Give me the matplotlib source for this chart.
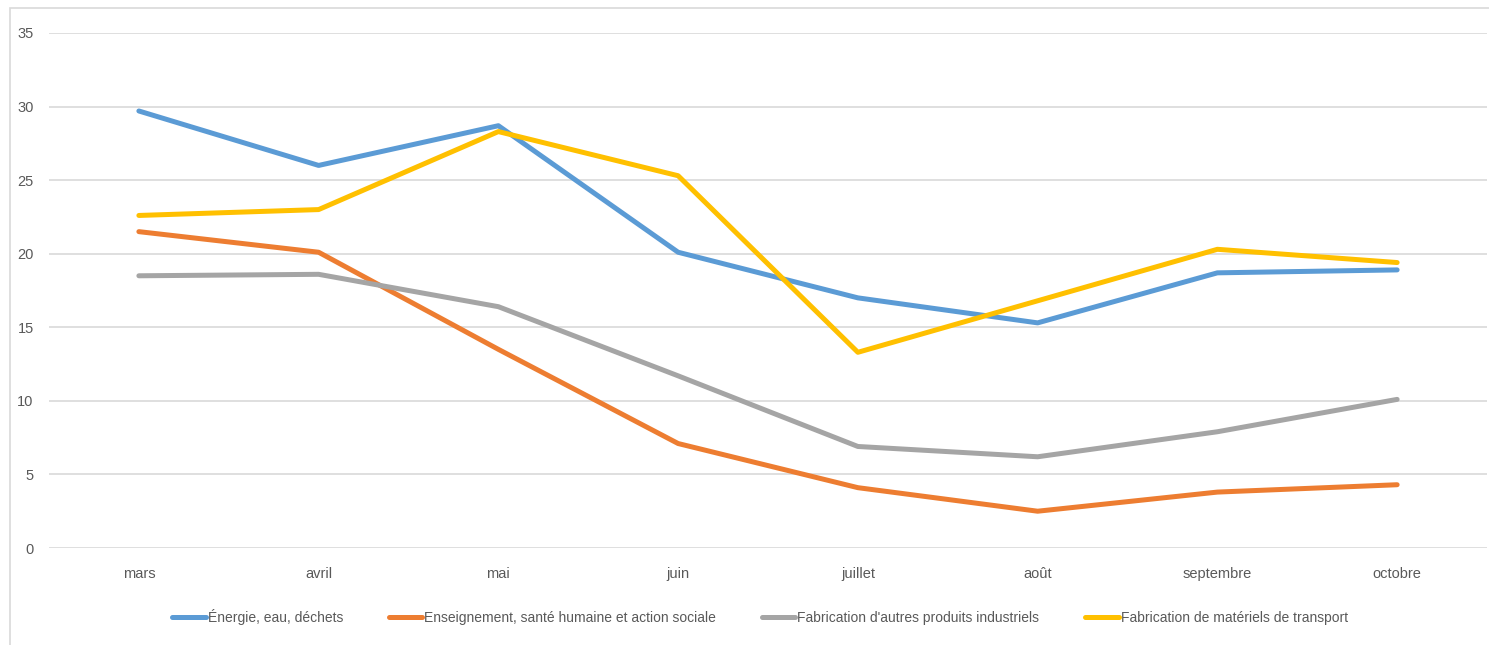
import matplotlib
matplotlib.use("Agg")
import matplotlib.pyplot as plt
from matplotlib.patches import Rectangle
from matplotlib.lines import Line2D

months = ["mars", "avril", "mai", "juin", "juillet", "août", "septembre", "octobre"]

energie = [29.7, 26.0, 28.7, 20.1, 17.0, 15.3, 18.7, 18.9]
enseignement = [21.5, 20.1, 13.5, 7.1, 4.1, 2.5, 3.8, 4.3]
fabrication_autres = [18.5, 18.6, 16.4, 11.7, 6.9, 6.2, 7.9, 10.1]
fabrication_transport = [22.6, 23.0, 28.3, 25.3, 13.3, 16.8, 20.3, 19.4]

series_names = [
    "Énergie, eau, déchets",
    "Enseignement, santé humaine et action sociale",
    "Fabrication d'autres produits industriels",
    "Fabrication de matériels de transport",
]
series_values = [energie, enseignement, fabrication_autres, fabrication_transport]
series_colors = ["#5B9BD5", "#ED7D31", "#A5A5A5", "#FFC000"]

y_ticks = [0, 5, 10, 15, 20, 25, 30, 35]

plt.rcParams["font.family"] = ["Liberation Sans Narrow", "Liberation Sans", "DejaVu Sans"]

W, H = 1489, 645
fig = plt.figure(figsize=(W / 100, H / 100), dpi=100)
fig.patch.set_facecolor("white")

# outer chart frame
fig.patches.append(Rectangle((10 / W, -0.05), 1.2, (645 - 8) / H + 0.05,
                             transform=fig.transFigure, fill=False,
                             edgecolor="#D9D9D9", linewidth=1.2, zorder=0))

ax = fig.add_axes([49 / W, (H - 548) / H, (1487 - 49) / W, (548 - 33) / H])
x = list(range(len(months)))
for name, vals, col in zip(series_names, series_values, series_colors):
    ax.plot(x, vals, color=col, linewidth=3.6, solid_capstyle="round",
            solid_joinstyle="round", label=name, zorder=3)

ax.set_xlim(-0.5, len(months) - 0.5)
ax.set_ylim(0, 35)
ax.set_yticks(y_ticks)
ax.set_xticks(x)
ax.set_xticklabels(months)
ax.grid(axis="y", color="#D9D9D9", linewidth=1.2, zorder=0)
ax.set_axisbelow(True)
for s in ax.spines.values():
    s.set_visible(False)
ax.tick_params(axis="both", length=0, labelsize=10.5, colors="#595959")
ax.tick_params(axis="x", pad=14)
ax.tick_params(axis="y", pad=11)

handles = [Line2D([0], [0], color=c, linewidth=3.6, solid_capstyle="round") for c in series_colors]
leg = fig.legend(handles, series_names, loc="center", bbox_to_anchor=(760 / W, (H - 617) / H),
                 ncol=4, frameon=False, fontsize=10, handlelength=2.4, handletextpad=0.15,
                 columnspacing=3.3, labelcolor="#595959")

fig.savefig("out.png", dpi=100, facecolor="white")
